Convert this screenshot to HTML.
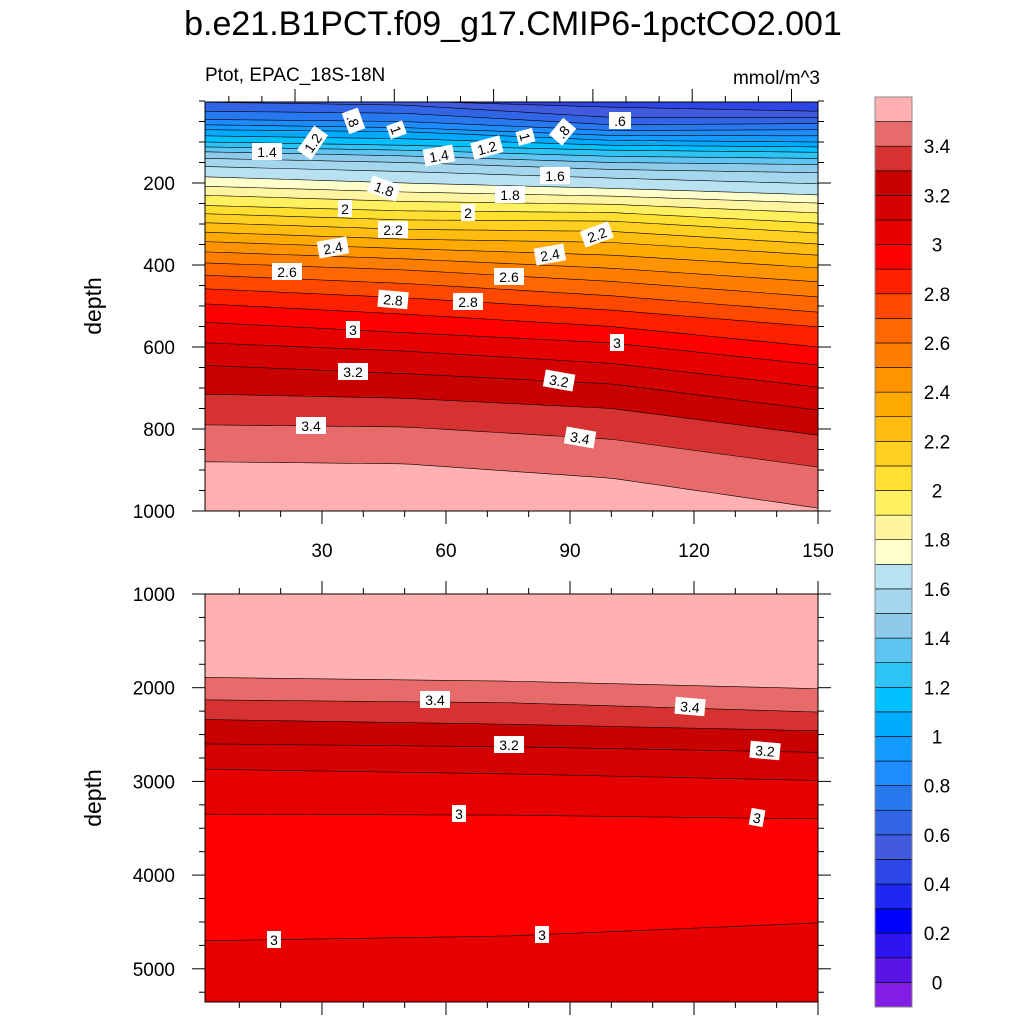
<!DOCTYPE html>
<html><head><meta charset="utf-8"><style>
body{margin:0;background:#fff}
svg{display:block;font-family:"Liberation Sans",sans-serif}
</style></head><body>
<svg id="chart" width="1024" height="1024" viewBox="0 0 1024 1024" xmlns="http://www.w3.org/2000/svg">
<text x="513" y="35" font-size="34" text-anchor="middle">b.e21.B1PCT.f09_g17.CMIP6-1pctCO2.001</text>
<text x="205" y="81" font-size="19">Ptot, EPAC_18S-18N</text>
<text x="820" y="84" font-size="19" text-anchor="end">mmol/m^3</text>
<text transform="translate(101,306) rotate(-90)" font-size="23" text-anchor="middle">depth</text>
<text transform="translate(101,798) rotate(-90)" font-size="23" text-anchor="middle">depth</text>
<g id="top"></g>
<g id="bot"></g>
<g id="cbar"></g>
</svg>
<script>
// colour levels (boundaries) and fill colours (lowest band first)
const levels = [0,0.1,0.2,0.3,0.4,0.5,0.6,0.7,0.8,0.9,1.0,1.1,1.2,1.3,1.4,1.5,1.6,1.7,1.8,1.9,2.0,2.1,2.2,2.3,2.4,2.5,2.6,2.7,2.8,2.9,3.0,3.1,3.2,3.3,3.4,3.5];
const colors = ["#821ee6","#5a14e6","#2d14f0","#0000ff","#1e28f0","#2d46e6","#415ade","#3264e6","#2878f0","#1e8cff","#149bff","#00aaff","#00c0ff","#2ec3f5","#5ec5f2","#8ecbea","#a4d6ee","#b8e2f2","#ffffcc","#fff5a0","#fff060","#ffe030","#ffd020","#ffbd10","#ffaa00","#ff9400","#ff7e00","#ff6800","#ff4800","#ff2000","#ff0000","#e60000","#d50000","#c80000","#d73232","#e86b6b","#ffb0b0"];
const cbarLabels = ["0","0.2","0.4","0.6","0.8","1","1.2","1.4","1.6","1.8","2","2.2","2.4","2.6","2.8","3","3.2","3.4"];

// top panel: contour depths at x columns
const topXs = [2,50,100,150];
const topLevels = [0.5,0.6,0.7,0.8,0.9,1.0,1.1,1.2,1.3,1.4,1.5,1.6,1.7,1.8,1.9,2.0,2.1,2.2,2.3,2.4,2.5,2.6,2.7,2.8,2.9,3.0,3.1,3.2,3.3,3.4,3.5];
const topDepthX2 = [0,3,25,45,58,70,85,100,112,124,140,160,185,208,230,255,275,297,320,343,368,395,425,458,495,540,590,645,715,790,880];
const topDepthX50 = [0,10,30,50,65,75,92,108,120,134,150,172,200,222,245,268,290,313,337,360,385,412,445,480,520,565,610,665,725,795,885];
const topDepthX100 = [15,40,58,72,84,96,108,120,135,150,167,188,213,232,252,272,293,318,345,376,408,440,475,510,550,590,640,690,750,825,920];
const topDepthX150 = [25,40,55,70,85,100,112,125,140,155,175,202,229,249,273,298,322,349,376,407,441,478,515,551,600,644,698,754,815,893,993];
const topTicks = [200,400,600,800,1000];
const xTicks = [30,60,90,120,150];

// bottom panel: contour lines top to bottom, value of band below each line
const botXs = [2,75,150];
const botLineLevels = [3.5,3.4,3.3,3.2,3.1,3.0,3.0];
const botBandBelow = [3.45,3.35,3.25,3.15,3.05,2.95,3.05];
const botDepthX2 = [1890,2130,2340,2600,2870,3350,4700];
const botDepthX75 = [1930,2160,2390,2630,2920,3360,4650];
const botDepthX150 = [2010,2260,2460,2690,2990,3400,4510];
const botTopValue = 3.55;
const botTicks = [1000,2000,3000,4000,5000];

const NS="http://www.w3.org/2000/svg";
function mk(tag,attrs,parent){const e=document.createElementNS(NS,tag);for(const k in attrs)e.setAttribute(k,attrs[k]);parent.appendChild(e);return e;}
function colorFor(v){let i=0;while(i<levels.length&&v>=levels[i])i++;return colors[i];}

const PL=205,PR=818;
const xS=x=>PL+(x-1.7)*(PR-PL)/(150-1.7);
const yTop=d=>101+d*0.41;
const yBot=d=>594+(d-1000)*0.0937;
const TT=102,TB=511,BT=594,BB=1002;

function interp(xs,ds,x){for(let i=0;i<xs.length-1;i++){if(x<=xs[i+1]||i==xs.length-2){const t=(x-xs[i])/(xs[i+1]-xs[i]);return ds[i]+(ds[i+1]-ds[i])*t;}}}
function linePts(xs,ds,yf,top,bot){const pts=[];for(let k=0;k<=60;k++){const x=xs[0]+(xs[xs.length-1]-xs[0])*k/60;let y=yf(interp(xs,ds,x));y=Math.max(top,Math.min(bot,y));pts.push([xS(x),y]);}pts[0][0]=PL;pts[pts.length-1][0]=PR;return pts;}

// ---- top panel
const gT=document.getElementById('top');
const clipT=mk('clipPath',{id:'ct'},gT);mk('rect',{x:PL,y:TT,width:PR-PL,height:TB-TT},clipT);
const gTi=mk('g',{'clip-path':'url(#ct)'},gT);
const bgT=mk('rect',{x:PL,y:TT,width:PR-PL,height:TB-TT,fill:colorFor(0.45)},gTi);


const topCols=topLevels.map((L,i)=>[topDepthX2[i],topDepthX50[i],topDepthX100[i],topDepthX150[i]]);
topLevels.forEach((L,i)=>{
  const pts=linePts(topXs,topCols[i],yTop,TT,TB);
  const d='M'+pts.map(p=>p.join(',')).join('L')+`L${PR},${TB}L${PL},${TB}Z`;
  const band=mk('path',{d:d,fill:colorFor(L+0.05)},gTi);
  
  
});
topLevels.forEach((L,i)=>{
  const pts=linePts(topXs,topCols[i],yTop,TT,TB);
  const ln=mk('path',{d:'M'+pts.map(p=>p.join(',')).join('L'),fill:'none',stroke:'#000','stroke-width':0.6},gTi);
  
  
});
mk('rect',{x:PL,y:TT,width:PR-PL,height:TB-TT,fill:'none',stroke:'#000','stroke-width':1},gT);

// ---- bottom panel
const gB=document.getElementById('bot');
const clipB=mk('clipPath',{id:'cb'},gB);mk('rect',{x:PL,y:BT,width:PR-PL,height:BB-BT},clipB);
const gBi=mk('g',{'clip-path':'url(#cb)'},gB);
const bgB=mk('rect',{x:PL,y:BT,width:PR-PL,height:BB-BT,fill:colorFor(botTopValue)},gBi);


const botCols=botLineLevels.map((L,i)=>[botDepthX2[i],botDepthX75[i],botDepthX150[i]]);
botLineLevels.forEach((L,i)=>{
  const pts=linePts(botXs,botCols[i],yBot,BT,BB);
  const d='M'+pts.map(p=>p.join(',')).join('L')+`L${PR},${BB}L${PL},${BB}Z`;
  const band=mk('path',{d:d,fill:colorFor(botBandBelow[i])},gBi);
  
  
});
botLineLevels.forEach((L,i)=>{
  const pts=linePts(botXs,botCols[i],yBot,BT,BB);
  const ln=mk('path',{d:'M'+pts.map(p=>p.join(',')).join('L'),fill:'none',stroke:'#000','stroke-width':0.6},gBi);
  
  
});
mk('rect',{x:PL,y:BT,width:PR-PL,height:BB-BT,fill:'none',stroke:'#000','stroke-width':1},gB);

// ---- ticks (outward)
function yTicksFor(g,ticks,yf,minStep,dmin,dmax,top,bot,name){
  for(let d=Math.ceil(dmin/minStep)*minStep;d<=dmax;d+=minStep){const y=yf(d);if(y<top||y>bot)continue;
    const major=ticks.includes(d);const len=major?13:6;
    mk('line',{x1:PL,x2:PL-len,y1:y,y2:y,stroke:'#000'},g);
    mk('line',{x1:PR,x2:PR+len,y1:y,y2:y,stroke:'#000'},g);
    if(major){const t=mk('text',{x:175,y:y+7,'font-size':19,'text-anchor':'end'},g);t.textContent=d;
      
      }
  }
}
yTicksFor(gT,topTicks,yTop,50,0,1000,TT-1,TB+1,'top-y');
yTicksFor(gB,botTicks,yBot,250,1000,5400,BT-1,BB+1,'bottom-y');
function xTicksAt(g,y,dir,labels){
  for(let x=10;x<=150;x+=10){const px=xS(x);const major=xTicks.includes(x);const len=major?13:6;
    mk('line',{x1:px,x2:px,y1:y,y2:y+dir*len,stroke:'#000'},g);
    if(major&&labels){const t=mk('text',{x:px,y:y+46,'font-size':19,'text-anchor':'middle'},g);t.textContent=x;
      
      }
  }
}
xTicksAt(gT,TB,1,true);
xTicksAt(gB,BT,-1,false);
xTicksAt(gB,BB,1,false);
// top edge of top panel: separate axis ticks
for(let k=-2;k<=15;k++){const px=295+k*33.1;if(px<PL||px>PR+1)continue;const major=(k%3===0);
  mk('line',{x1:px,x2:px,y1:TT,y2:TT-(major?13:6),stroke:'#000'},gT);}

// ---- contour labels
const topLab=[[".8",353,121,70],["1",396,130,70],["1.2",313,143,-55],["1.4",267,152,0],["1.4",439,156,-10],["1.2",487,148,-15],["1",525,137,75],[".8",563,132,-50],[".6",620,121,0],["1.8",384,189,20],["1.8",510,195,0],["1.6",555,176,0],["2",345,209,0],["2",468,213,0],["2.2",393,230,0],["2.2",597,235,-20],["2.4",333,248,-10],["2.4",550,255,-10],["2.6",287,272,0],["2.6",509,277,0],["2.8",393,300,5],["2.8",468,302,0],["3",353,330,0],["3",617,343,0],["3.2",353,372,0],["3.2",559,381,10],["3.4",311,426,0],["3.4",580,438,10]];
const botLab=[["3.4",435,700,0],["3.4",690,707,5],["3.2",509,745,0],["3.2",765,751,5],["3",459,814,0],["3",757,818,10],["3",274,940,0],["3",542,935,0]];
function labels(g,list){list.forEach(l=>{const gg=mk('g',{transform:`translate(${l[1]},${l[2]}) rotate(${l[3]})`},g);
  
  
  const w=l[0].length*8+6;mk('rect',{x:-w/2,y:-9,width:w,height:17,fill:'#fff'},gg);
  const t=mk('text',{x:0,y:5,'font-size':14,'text-anchor':'middle'},gg);t.textContent=l[0];});}
labels(gT,topLab);labels(gB,botLab);

// ---- colorbar
const gC=document.getElementById('cbar');
const CX=875,CW=37,CT=97,CBt=1007,bh=(CBt-CT)/colors.length;
colors.forEach((c,i)=>{const y=CBt-(i+1)*bh;const r=mk('rect',{x:CX,y:y,width:CW,height:bh,fill:c,stroke:'#000','stroke-width':0.6},gC);
  
  });
cbarLabels.forEach(s=>{const v=parseFloat(s);const idx=levels.findIndex(l=>Math.abs(l-v)<1e-6);const y=CBt-(idx+1)*bh;
  const t=mk('text',{x:937,y:y+7,'font-size':19,'text-anchor':'middle'},gC);t.textContent=s;
  
  });
mk('rect',{x:CX,y:CT,width:CW,height:CBt-CT,fill:'none',stroke:'#888','stroke-width':1},gC);
</script>
</body></html>
